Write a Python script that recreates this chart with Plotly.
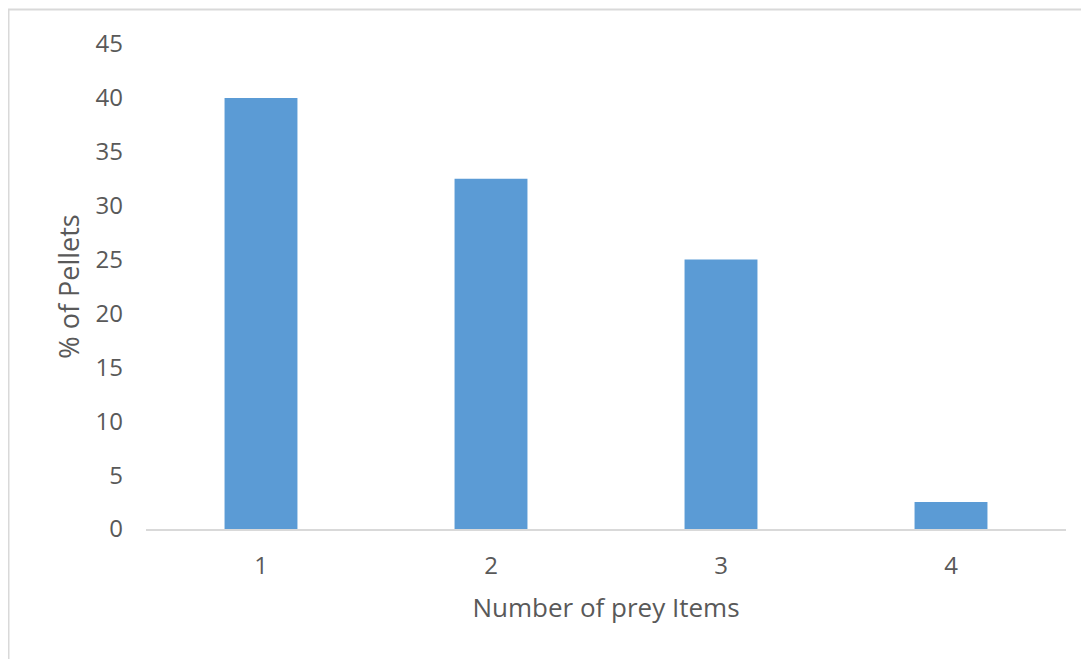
import plotly.graph_objects as go

categories = ["1", "2", "3", "4"]
values = [40, 32.5, 25, 2.5]
y_ticks = [0, 5, 10, 15, 20, 25, 30, 35, 40, 45]

W, H = 1089, 659
L, R, T, B = 138, 31, 36, 138
pw, ph = W - L - R, H - T - B

def px_x(p):
    return (p - L) / pw

def px_y(p):
    return (H - B - p) / ph

fig = go.Figure(go.Bar(x=categories, y=values, marker=dict(color="#5B9BD5", line=dict(width=0))))

font = "Open Sans, Segoe UI, sans-serif"
fig.update_layout(
    width=W, height=H,
    margin=dict(l=L, r=R, t=T, b=B),
    plot_bgcolor="white", paper_bgcolor="white",
    bargap=0.683,
    showlegend=False,
    font=dict(family=font, color="#595959"),
    shapes=[dict(type="rect", xref="paper", yref="paper",
                 x0=px_x(0.5), x1=px_x(1110), y0=px_y(700), y1=px_y(1.5),
                 line=dict(color="#d9d9d9", width=2), layer="below")],
)
fig.update_xaxes(
    type="category", showgrid=False, showline=True, linecolor="#d9d9d9", linewidth=2,
    ticks="", tickfont=dict(size=24, color="#595959"), ticklabelstandoff=14,
    title=dict(text="Number of prey Items", font=dict(size=26, color="#595959"), standoff=19),
)
fig.update_yaxes(
    range=[0, 45], tickvals=y_ticks, showgrid=False, showline=False, zeroline=False,
    ticks="", tickfont=dict(size=24, color="#595959"), ticklabelstandoff=22,
    title=dict(text="% of Pellets", font=dict(size=27, color="#595959"), standoff=8),
)
fig.write_html("out.html")
